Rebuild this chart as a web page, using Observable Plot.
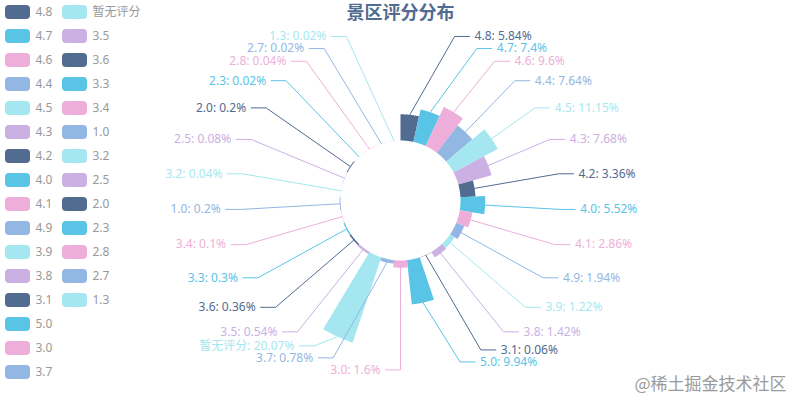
<!DOCTYPE html>
<html><head><meta charset="utf-8">
<script src="https://cdn.jsdelivr.net/npm/d3@7"></script>
<script src="https://cdn.jsdelivr.net/npm/@observablehq/plot@0.6"></script>
<style>html,body{margin:0;padding:0;background:#fff}#chart{width:800px;height:400px}</style>
</head><body><div id="chart"></div>
<script>
// ---- data ----
const title = "景区评分分布";
const watermark = "@稀土掘金技术社区";
const categories = ["4.8","4.7","4.6","4.4","4.5","4.3","4.2","4.0","4.1","4.9","3.9","3.8","3.1","5.0","3.0","3.7","暂无评分","3.5","3.6","3.3","3.4","1.0","3.2","2.5","2.0","2.3","2.8","2.7","1.3"];
const percents = [5.84,7.4,9.6,7.64,11.15,7.68,3.36,5.52,2.86,1.94,1.22,1.42,0.06,9.94,1.6,0.78,20.07,0.54,0.36,0.3,0.1,0.2,0.04,0.08,0.2,0.02,0.04,0.02,0.02];
const palette = ["#516b91","#59c4e6","#edafda","#93b7e3","#a5e7f0","#cbb0e3"];

// ---- layout constants ----
const W = 800, H = 400, cx = W / 2, cy = H / 2;
const rInner = 60, rOuter = 150, lineLen = 15, lineLen2 = 15, labelDist = 5, labelH = 12;
const legendPerCol = 16, legendColW = 57, legendRowH = 24, iconW = 25, iconH = 14, legendPad = 5;

const n = categories.length;
const step = 2 * Math.PI / n;
const rScale = d3.scaleLinear().domain([0, d3.max(percents)]).range([rInner, rOuter]);

const slices = categories.map((cat, i) => {
  const a0 = -Math.PI / 2 + i * step, a1 = a0 + step;
  return {i, cat, value: percents[i], color: palette[i % palette.length], a0, a1, mid: (a0 + a1) / 2, r: rScale(percents[i])};
});

// sector outlines (rose chart, equal angles, radius by value)
const sectorPts = [];
const K = 24;
for (const s of slices) {
  for (let k = 0; k <= K; k++) {
    const a = s.a0 + (s.a1 - s.a0) * k / K;
    sectorPts.push({key: s.i, color: s.color, x: cx + s.r * Math.cos(a), y: cy + s.r * Math.sin(a)});
  }
  for (let k = K; k >= 0; k--) {
    const a = s.a0 + (s.a1 - s.a0) * k / K;
    sectorPts.push({key: s.i, color: s.color, x: cx + rInner * Math.cos(a), y: cy + rInner * Math.sin(a)});
  }
}

// label layout (outer labels with overlap avoidance)
const labels = slices.map(s => {
  const dx = Math.cos(s.mid), dy = Math.sin(s.mid);
  const dir = dx < 1e-9 ? -1 : 1;
  const x1 = cx + s.r * dx, y1 = cy + s.r * dy;
  const x2 = cx + (rOuter + lineLen) * dx, y2 = cy + (rOuter + lineLen) * dy;
  const x3 = x2 + dir * lineLen2;
  return {...s, dir, x1, y1, x: x3 + dir * labelDist, y: y2, text: `${s.cat}: ${s.value}%`};
});

function changeX(list, isDown, dir) {
  let last = isDown ? Infinity : 0;
  const R = rOuter + lineLen + lineLen2;
  for (const d of list) {
    const dy = Math.abs(d.y - cy);
    let dX = dy < rOuter + lineLen ? Math.sqrt(R * R - dy * dy) : Math.abs(d.x - cx);
    if (isDown && dX >= last) dX = last - 10;
    if (!isDown && dX <= last) dX = last + 10;
    d.x = cx + dX * dir;
    last = dX;
  }
}
function adjustSide(list, dir) {
  list.sort((a, b) => a.y - b.y);
  const m = list.length;
  function shiftUp(end, delta) {
    for (let j = end; j >= 0; j--) {
      if (list[j].y - delta < 0) break;
      list[j].y -= delta;
      if (j > 0 && list[j].y > list[j - 1].y + labelH) break;
    }
  }
  function shiftDown(start, end, delta) {
    for (let j = start; j < end; j++) {
      if (list[j].y + delta > H) break;
      list[j].y += delta;
      if (j > start && j + 1 < end && list[j + 1].y > list[j].y + labelH) { shiftUp(j, delta / 2); return; }
    }
    shiftUp(end - 1, delta / 2);
  }
  let lastY = 0;
  for (let i = 0; i < m; i++) {
    const delta = list[i].y - lastY;
    if (delta < 0) shiftDown(i, m, -delta);
    lastY = list[i].y + labelH;
  }
  if (H - lastY < 0) shiftUp(m - 1, lastY - H);
  changeX(list.filter(d => d.y < cy), false, dir);
  changeX(list.filter(d => d.y >= cy), true, dir);
}
adjustSide(labels.filter(d => d.dir > 0), 1);
adjustSide(labels.filter(d => d.dir < 0), -1);

const linePts = [];
for (const d of labels) {
  const x3 = d.x - d.dir * labelDist, x2 = x3 - d.dir * lineLen2;
  linePts.push({key: d.i, color: d.color, x: d.x1, y: d.y1});
  linePts.push({key: d.i, color: d.color, x: x2, y: d.y});
  linePts.push({key: d.i, color: d.color, x: x3, y: d.y});
}

// legend layout
const legend = slices.map(s => {
  const col = Math.floor(s.i / legendPerCol), row = s.i % legendPerCol;
  const x1 = legendPad + col * legendColW, y1 = legendPad + row * legendRowH;
  return {cat: s.cat, color: s.color, x1, x2: x1 + iconW, y1, y2: y1 + iconH, tx: x1 + iconW + 5, ty: y1 + iconH / 2};
});

const chart = Plot.plot({
  width: W, height: H, margin: 0,
  x: {domain: [0, W], range: [0, W], axis: null},
  y: {domain: [0, H], range: [0, H], axis: null},
  color: {type: "identity"},
  style: {fontFamily: '"Noto Sans","Noto Sans CJK SC",sans-serif', background: "#fff", overflow: "visible"},
  marks: [
    Plot.line(sectorPts, {x: "x", y: "y", z: "key", fill: "color", stroke: null, curve: "linear"}),
    Plot.line(linePts, {x: "x", y: "y", z: "key", stroke: "color", strokeWidth: 1, curve: "linear"}),
    Plot.text(labels.filter(d => d.dir > 0), {x: "x", y: "y", text: "text", fill: "color", textAnchor: "start", fontSize: 12}),
    Plot.text(labels.filter(d => d.dir < 0), {x: "x", y: "y", text: "text", fill: "color", textAnchor: "end", fontSize: 12}),
    Plot.rect(legend, {x1: "x1", x2: "x2", y1: "y1", y2: "y2", fill: "color", rx: 4}),
    Plot.text(legend, {x: "tx", y: "ty", text: "cat", fill: "#999", textAnchor: "start", fontSize: 12}),
    Plot.text([title], {text: d => d, frameAnchor: "top", lineAnchor: "top", textAnchor: "middle", dy: 6, fontSize: 18, fontWeight: "bold", fill: "#516b91", fontFamily: '"Noto Sans CJK SC",sans-serif'}),
    Plot.text([watermark], {text: d => d, frameAnchor: "bottom-right", textAnchor: "end", lineAnchor: "bottom", dx: -14, dy: -11, fontSize: 17, fill: "#9a9a9a", fontFamily: '"Noto Sans CJK SC",sans-serif'})
  ]
});
document.getElementById("chart").appendChild(chart);
</script>
</body></html>
